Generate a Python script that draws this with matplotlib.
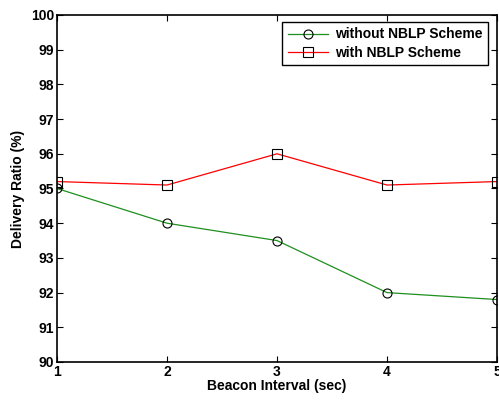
import matplotlib
matplotlib.use("Agg")
import matplotlib.pyplot as plt

x = [1, 2, 3, 4, 5]
without_nblp = [95.0, 94.0, 93.5, 92.0, 91.8]
with_nblp = [95.2, 95.1, 96.0, 95.1, 95.2]
yticks = list(range(90, 101))

plt.rcParams['font.family'] = ['Liberation Sans', 'DejaVu Sans']
plt.rcParams['font.weight'] = 'bold'

fig = plt.figure(figsize=(4.99, 4.0), dpi=100)
ax = fig.add_axes([57/499, 1-362/400, (497-57)/499, (362-15)/400])

ax.plot(x, without_nblp, color='#1f8f1f', lw=0.9, marker='o', ms=6.5,
        mfc='none', mec='black', mew=0.8, label='without NBLP Scheme')
ax.plot(x, with_nblp, color='red', lw=0.9, marker='s', ms=6.5,
        mfc='none', mec='black', mew=0.8, label='with NBLP Scheme')

ax.set_xlim(1, 5)
ax.set_ylim(90, 100)
ax.set_xticks(x)
ax.set_yticks(yticks)
ax.tick_params(direction='in', top=True, right=True, labelsize=10, length=4, width=0.8, pad=2)
for lab in ax.get_xticklabels() + ax.get_yticklabels():
    lab.set_fontweight('bold')
for s in ax.spines.values():
    s.set_linewidth(1.2)
ax.set_xlabel('Beacon Interval (sec)', fontsize=10, fontweight='bold', labelpad=0)
ax.set_ylabel('Delivery Ratio (%)', fontsize=10, fontweight='bold', labelpad=4)

leg = ax.legend(loc='upper right', bbox_to_anchor=(0.98, 0.98), fancybox=False, edgecolor='black',
                prop={'weight': 'bold', 'size': 10}, handlelength=2.9, borderpad=0.4,
                labelspacing=0.3, handletextpad=0.5, borderaxespad=0, framealpha=1)
leg.get_frame().set_linewidth(1.0)

fig.savefig('out.png', dpi=100)
